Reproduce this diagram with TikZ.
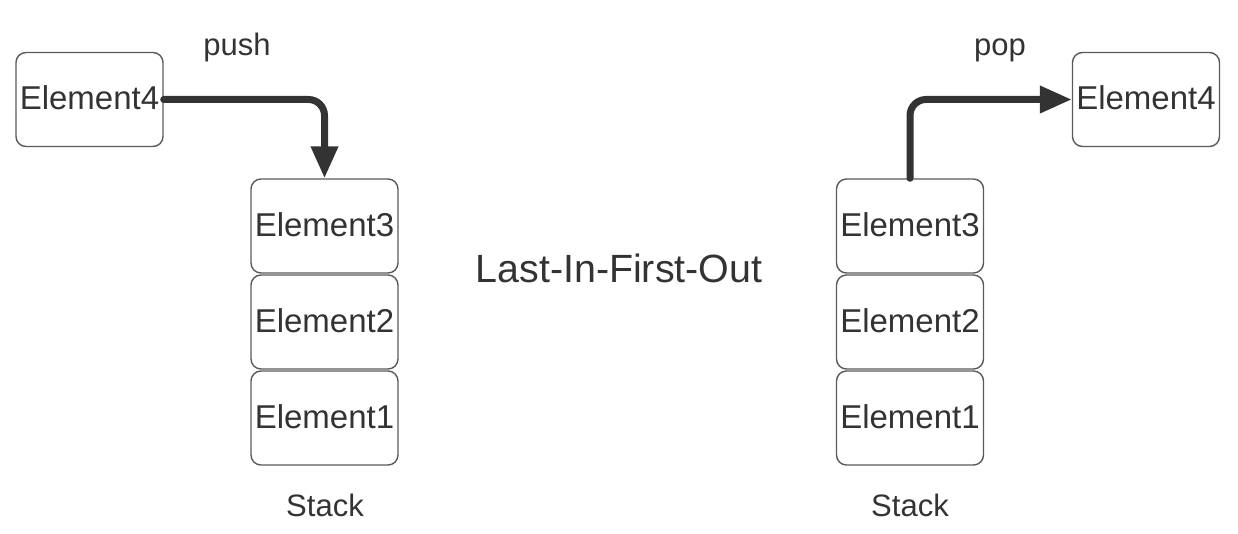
\documentclass[tikz,border=0pt]{standalone}
\usepackage{fontspec}
\setmainfont{Liberation Sans}
\usetikzlibrary{positioning,arrows.meta}
\definecolor{inkgray}{HTML}{333333}
\definecolor{boxgray}{HTML}{5A5A5A}
\begin{document}
\begin{tikzpicture}[x=0.5pt, y=-0.5pt, line join=round, line cap=round]

	\tikzset{elem/.style={draw=boxgray, line width=0.7pt, rounded corners=5pt, minimum width=73.5pt, minimum height=47pt, inner sep=0pt, text=inkgray, font=\fontsize{16.5}{20}\selectfont},
		caption/.style={text=inkgray, font=\fontsize{15.5}{18}\selectfont},
		move/.style={draw=inkgray, line width=3.5pt, rounded corners=8pt, -{Triangle[length=16pt, width=13pt]}}}

	\useasboundingbox (0,0) rectangle (1238,534);

	% left stack (push)
	\node[elem] (lE4) at (89.5,99.5) {\raisebox{1.5pt}{Element4}};
	\node[elem] (lE3) at (324.5,226) {\raisebox{1.5pt}{Element3}};
	\node[elem, below=0.3pt of lE3] (lE2) {\raisebox{1.5pt}{Element2}};
	\node[elem, below=0.3pt of lE2] (lE1) {\raisebox{1.5pt}{Element1}};
	\node[caption] (lStack) at (325,505) {Stack};
	\node[caption] (push) at (237,47) {push};
	\draw[move] (lE4.east) -| (lE3.north);

	% right stack (pop)
	\node[elem] (rE3) at (910,226) {\raisebox{1.5pt}{Element3}};
	\node[elem, below=0.3pt of rE3] (rE2) {\raisebox{1.5pt}{Element2}};
	\node[elem, below=0.3pt of rE2] (rE1) {\raisebox{1.5pt}{Element1}};
	\node[elem] (rE4) at (1146,99.5) {\raisebox{1.5pt}{Element4}};
	\node[caption] (rStack) at (910,505) {Stack};
	\node[caption] (pop) at (1000,50) {pop};
	\draw[move] (rE3.north) |- (rE4.west);

	\node[text=inkgray, font=\fontsize{19.7}{24}\selectfont] (lifo) at (619,268) {Last-In-First-Out};
\end{tikzpicture}
\end{document}
